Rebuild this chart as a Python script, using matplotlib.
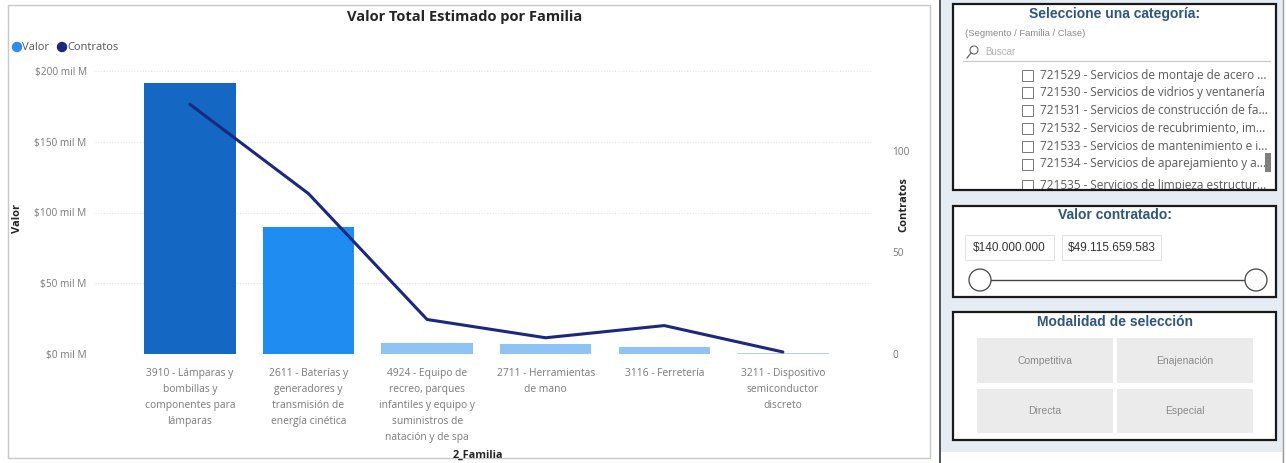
import numpy as np
import matplotlib
matplotlib.use("Agg")
from matplotlib import pyplot as plt
from matplotlib.patches import Rectangle, Ellipse
from matplotlib.lines import Line2D

# Data
familias = [
    "3910 - Lámparas y\nbombillas y\ncomponentes para\nlámparas",
    "2611 - Baterías y\ngeneradores y\ntransmisión de\nenergía cinética",
    "4924 - Equipo de\nrecreo, parques\ninfantiles y equipo y\nsuministros de\nnatación y de spa",
    "2711 - Herramientas\nde mano",
    "3116 - Ferretería",
    "3211 - Dispositivo\nsemiconductor\ndiscreto",
]
valor = [191.5, 90.1, 7.7, 7.0, 5.1, 0.4]      # mil M
contratos = [123, 79, 17, 8, 14, 1]
valor_ticks = [0, 50, 100, 150, 200]
valor_labels = ["$0 mil M", "$50 mil M", "$100 mil M", "$150 mil M", "$200 mil M"]
contratos_ticks = [0, 50, 100]

lista_clases = [
    "721529 - Servicios de montaje de acero ...",
    "721530 - Servicios de vidrios y ventanería",
    "721531 - Servicios de construcción de fa...",
    "721532 - Servicios de recubrimiento, im...",
    "721533 - Servicios de mantenimiento e i...",
    "721534 - Servicios de aparejamiento y a...",
    "721535 - Servicios de limpieza estructur...",
]
rango_valor = ["$140.000.000", "$49.115.659.583"]
modalidades = ["Competitiva", "Enajenación", "Directa", "Especial"]

bar_colors = ["#1467c2", "#1f8cf2", "#8ec3f4", "#8ec3f4", "#8ec3f4", "#b9cfe3"]
line_color = "#1c2780"
ui_blue = "#2f5680"

W, H = 1287, 463
plt.rcParams["font.family"] = ["Open Sans", "DejaVu Sans"]

fig = plt.figure(figsize=(W / 100, H / 100), dpi=100)
fig.patch.set_facecolor("white")


def fx(x):
    return x / W


def fy(y):
    return 1 - y / H


def frect(x0, y0, x1, y1, **kw):
    r = Rectangle((fx(x0), fy(y1)), fx(x1) - fx(x0), fy(y0) - fy(y1),
                  transform=fig.transFigure, **kw)
    fig.add_artist(r)
    return r


def fcircle(cx, cy, r, **kw):
    e = Ellipse((fx(cx), fy(cy)), 2 * r / W, 2 * r / H,
                transform=fig.transFigure, **kw)
    fig.add_artist(e)
    return e


def ftext(x, y, s, **kw):
    return fig.text(fx(x), fy(y), s, **kw)


# ---- main chart panel
frect(8, 5, 930, 458, facecolor="white", edgecolor="#c8c8c8", lw=1, zorder=0)

ax = fig.add_axes([fx(95), fy(354), fx(873) - fx(95), fy(71) - fy(354)])
ax.set_facecolor("none")
x = np.arange(len(familias))
ax.bar(x, valor, width=0.77, color=bar_colors, zorder=2)
ax.set_xlim(-0.8, 5.76)
ax.set_ylim(0, 200)
ax.set_yticks(valor_ticks)
ax.set_yticklabels(valor_labels, fontsize=7.3, color="#7a7a7a")
ax.set_xticks(x)
ax.set_xticklabels(familias, fontsize=7.4, color="#7a7a7a", linespacing=1.62,
                   va="top")
ax.tick_params(axis="both", length=0)
ax.tick_params(axis="y", pad=6)
ax.tick_params(axis="x", pad=10)
ax.grid(axis="y", color="#e4e4e4", linestyle=(0, (1, 1.5)), linewidth=0.8, zorder=0)
for s in ax.spines.values():
    s.set_visible(False)

ax2 = ax.twinx()
ax2.plot(x, contratos, color=line_color, lw=2.2, zorder=3, solid_capstyle="round")
ax2.set_ylim(0, 139.4)
ax2.set_yticks(contratos_ticks)
ax2.set_yticklabels([str(t) for t in contratos_ticks], fontsize=7.3, color="#7a7a7a")
ax2.tick_params(axis="y", length=0, pad=14)
for s in ax2.spines.values():
    s.set_visible(False)

ftext(465, 17, "Valor Total Estimado por Familia", fontsize=10.5, fontweight="bold",
      color="#252423", ha="center", va="center")
ftext(18, 218, "Valor", fontsize=8, fontweight="bold", color="#252423",
      rotation=90, ha="center", va="center")
ftext(904, 205, "Contratos", fontsize=8, fontweight="bold", color="#252423",
      rotation=90, ha="center", va="center")
ftext(478, 455, "2_Familia", fontsize=7.8, fontweight="bold", color="#252423",
      ha="center", va="center")

# legend
fcircle(17, 47, 4.5, color="#2a8ef0")
ftext(22, 47, "Valor", fontsize=8, color="#555555", va="center")
fcircle(62, 47, 4.5, color=line_color)
ftext(67, 47, "Contratos", fontsize=8, color="#555555", va="center")

# ---- right filter panel
frect(940, 0, 1284, 463, facecolor="#e6ecf3", edgecolor="none", zorder=0)
fig.add_artist(Line2D([fx(940), fx(940)], [0, 1], transform=fig.transFigure,
                      color="#3a3a3a", lw=1.2))
fig.add_artist(Line2D([fx(1283), fx(1283)], [0, 1], transform=fig.transFigure,
                      color="#9a9a9a", lw=1))
frect(941, 452, 1282, 463, facecolor="white", edgecolor="none", zorder=0)

ui_font = ["Liberation Sans", "DejaVu Sans"]

# box 1 - category list
frect(953, 4, 1276, 190, facecolor="white", edgecolor="#1a1a1a", lw=1.6, zorder=1)
ftext(1115, 14, "Seleccione una categoría:", fontsize=10, fontweight="bold",
      color=ui_blue, ha="center", va="center", family=ui_font)
ftext(965, 34, "(Segmento / Familia / Clase)", fontsize=6.8, color="#8a8a8a",
      va="center", family=ui_font)
fcircle(974, 50, 4, fill=False, edgecolor="#666666", lw=0.8, zorder=2)
fig.add_artist(Line2D([fx(971), fx(967)], [fy(53), fy(58)], transform=fig.transFigure,
                      color="#666666", lw=0.9, zorder=2))
ftext(985, 52, "Buscar", fontsize=7, color="#b0b0b0", va="center", family=ui_font)
fig.add_artist(Line2D([fx(963), fx(1270)], [fy(61), fy(61)], transform=fig.transFigure,
                      color="#c8c8c8", lw=0.8, zorder=2))

# scrolling list lives in its own axes so the last row gets clipped
lx0, ly0, lx1, ly1 = 955, 62, 1274, 188.5
lax = fig.add_axes([fx(lx0), fy(ly1), fx(lx1) - fx(lx0), fy(ly0) - fy(ly1)])
lax.set_xlim(lx0, lx1)
lax.set_ylim(ly1, ly0)
lax.axis("off")
lax.set_zorder(2)
for i, item in enumerate(lista_clases):
    yy = 75 + i * 17.8 + (4 if i == len(lista_clases) - 1 else 0)
    lax.add_patch(Rectangle((1022, yy - 5.5), 11, 11, facecolor="white",
                            edgecolor="#777777", lw=0.7, clip_on=True))
    lax.text(1040, yy, item, fontsize=8.5, color="#5a5a5a", va="center",
             clip_on=True)
frect(1265, 153, 1271, 172, facecolor="#808080", edgecolor="none", zorder=3)

# box 2 - value range slider
frect(953, 206, 1276, 297, facecolor="white", edgecolor="#1a1a1a", lw=1.6, zorder=1)
ftext(1115, 215, "Valor contratado:", fontsize=10, fontweight="bold",
      color=ui_blue, ha="center", va="center", family=ui_font)
frect(965, 235, 1054, 260, facecolor="white", edgecolor="#e2e2e2", lw=0.8, zorder=2)
frect(1062, 235, 1161, 260, facecolor="white", edgecolor="#e2e2e2", lw=0.8, zorder=2)
ftext(1009.5, 248, rango_valor[0], fontsize=8.5, color="#333333", ha="center",
      va="center", family=ui_font)
ftext(1111.5, 248, rango_valor[1], fontsize=8.5, color="#333333", ha="center",
      va="center", family=ui_font)
fig.add_artist(Line2D([fx(991), fx(1245)], [fy(280), fy(280)], transform=fig.transFigure,
                      color="#444444", lw=1, zorder=2))
for cx in (980, 1256):
    fcircle(cx, 280, 11, facecolor="white", edgecolor="#444444", lw=0.9, zorder=3)

# box 3 - selection buttons
frect(953, 312, 1276, 440, facecolor="white", edgecolor="#1a1a1a", lw=1.6, zorder=1)
ftext(1115, 322, "Modalidad de selección", fontsize=10, fontweight="bold",
      color=ui_blue, ha="center", va="center", family=ui_font)
botones = [(977, 338, 1113, 383), (1117, 338, 1253, 383),
           (977, 389, 1113, 433), (1117, 389, 1253, 433)]
for (x0, y0, x1, y1), lab in zip(botones, modalidades):
    frect(x0, y0, x1, y1, facecolor="#ebebeb", edgecolor="none", zorder=2)
    ftext((x0 + x1) / 2, (y0 + y1) / 2, lab, fontsize=7.5, color="#8a8a8a",
          ha="center", va="center", family=ui_font, zorder=3)

plt.savefig("out.png", dpi=100)
